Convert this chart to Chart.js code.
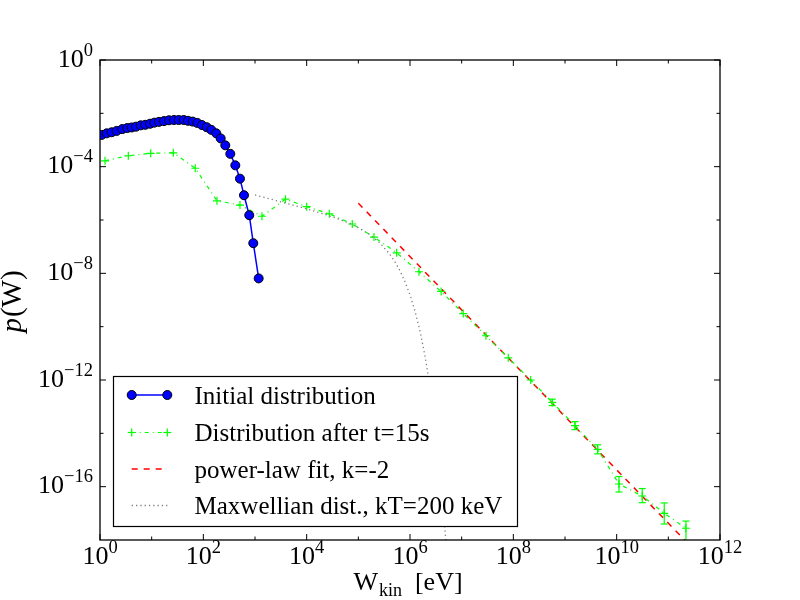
<!DOCTYPE html>
<html>
<head>
<meta charset="utf-8">
<script src="https://cdn.jsdelivr.net/npm/chart.js@4.4.0/dist/chart.umd.min.js"></script>
<style>
    html, body { margin: 0; padding: 0; background: #ffffff; }
    #wrap { width: 800px; height: 600px; }
</style>
</head>
<body>
<div id="wrap"><canvas id="grafico_espectro" width="800" height="600"></canvas></div>
<script>
// values, stored as log10 exponents (W in eV, p(W))
const inicial_logW = [0.033, 0.130, 0.226, 0.323, 0.432, 0.528, 0.614, 0.697, 0.788, 0.877,
    0.968, 1.051, 1.142, 1.239, 1.335, 1.432, 1.523, 1.620, 1.703, 1.794,
    1.883, 1.974, 2.065, 2.154, 2.251, 2.336, 2.425, 2.522, 2.619, 2.709,
    2.787, 2.889, 2.967, 3.071];
const inicial_logP = [-2.81, -2.75, -2.71, -2.66, -2.59, -2.55, -2.53, -2.50, -2.45, -2.43,
    -2.39, -2.35, -2.32, -2.29, -2.26, -2.25, -2.25, -2.25, -2.28, -2.31,
    -2.36, -2.44, -2.52, -2.62, -2.75, -2.94, -3.20, -3.52, -3.95, -4.45,
    -5.07, -5.82, -6.87, -8.19];

const depois_logW = [0.097, 0.548, 0.981, 1.419, 1.844, 2.264, 2.709, 3.135, 3.590, 4.000,
    4.438, 4.883, 5.303, 5.742, 6.174, 6.603, 7.031, 7.470, 7.902, 8.336,
    8.754, 9.193, 9.632, 10.045, 10.495, 10.921, 11.341];
const depois_logP = [-3.78, -3.59, -3.50, -3.48, -4.06, -5.28, -5.44, -5.86, -5.22, -5.50,
    -5.77, -6.15, -6.64, -7.23, -7.94, -8.68, -9.51, -10.34, -11.17, -12.00,
    -12.84, -13.71, -14.60, -15.90, -16.35, -17.00, -17.56];
const depois_errBaixo = [null, null, null, null, null, null, null, null, null, null,
    null, null, null, null, null, null, null, null, null, null,
    -12.96, -13.86, -14.77, -16.20, -16.60, -17.40, -18.20];
const depois_errAlto = [null, null, null, null, null, null, null, null, null, null,
    null, null, null, null, null, null, null, null, null, null,
    -12.72, -13.56, -14.43, -15.62, -16.07, -16.61, -17.29];

const ajuste_logW = [5, 12];
const ajuste_logP = [-5.37, -19.37];

const maxwell_logW = [3.0, 3.25, 3.5, 3.75, 4.0, 4.25, 4.5, 4.75, 5.0, 5.2,
    5.4, 5.6, 5.7, 5.8, 5.9, 6.0, 6.1, 6.2, 6.3, 6.4,
    6.5, 6.6, 6.7, 6.75];
const maxwell_logP = [-5.06, -5.19, -5.32, -5.45, -5.58, -5.73, -5.88, -6.06, -6.29, -6.52,
    -6.83, -7.26, -7.54, -7.88, -8.30, -8.81, -9.44, -10.22, -11.20, -12.41,
    -13.92, -15.81, -18.18, -19.58];

const legenda_textos = ['Initial distribution', 'Distribution after t=15s',
    'power-law fit, k=-2', 'Maxwellian dist., kT=200 keV'];

const ticksX = [0, 2, 4, 6, 8, 10, 12];
const ticksX_menor = [1, 3, 5, 7, 9, 11];
const ticksY = [0, -4, -8, -12, -16];
const ticksY_menor = [-2, -6, -10, -14];

const FONTE = '"Liberation Serif", "Times New Roman", serif';

function pontos(logW, logP) {
    return logW.map(function (w, i) { return { x: Math.pow(10, w), y: Math.pow(10, logP[i]) }; });
}

const estilo_inicial = { cor: '#0000ff', largura: 1.5, raio: 4.5 };
const estilo_depois = { cor: '#00ff00', largura: 1.2, raio: 4, dash: [4, 4, 1, 4] };
const estilo_ajuste = { cor: '#ff0000', largura: 1.5, dash: [6, 6] };
const estilo_maxwell = { cor: '#808080', largura: 1.3, dash: [1.3, 3] };

const data_espectro = {
    datasets: [{
        label: legenda_textos[0],
        data: pontos(inicial_logW, inicial_logP),
        showLine: true,
        borderColor: estilo_inicial.cor,
        borderWidth: estilo_inicial.largura,
        pointRadius: estilo_inicial.raio,
        pointBackgroundColor: estilo_inicial.cor,
        pointBorderColor: '#000000',
        pointBorderWidth: 1,
        clip: 0,
        order: 1
    }, {
        label: legenda_textos[1],
        data: pontos(depois_logW, depois_logP),
        showLine: true,
        borderColor: estilo_depois.cor,
        borderWidth: estilo_depois.largura,
        borderDash: estilo_depois.dash,
        pointStyle: 'cross',
        pointRadius: estilo_depois.raio,
        pointBorderColor: estilo_depois.cor,
        pointBorderWidth: 1.2,
        clip: 0,
        order: 2
    }, {
        label: legenda_textos[2],
        data: pontos(ajuste_logW, ajuste_logP),
        showLine: true,
        borderColor: estilo_ajuste.cor,
        borderWidth: estilo_ajuste.largura,
        borderDash: estilo_ajuste.dash,
        pointRadius: 0,
        clip: 0,
        order: 3
    }, {
        label: legenda_textos[3],
        data: pontos(maxwell_logW, maxwell_logP),
        showLine: true,
        borderColor: estilo_maxwell.cor,
        borderWidth: estilo_maxwell.largura,
        borderDash: estilo_maxwell.dash,
        pointRadius: 0,
        clip: 0,
        order: 0
    }]
};

// 10 with a raised exponent, as matplotlib draws it
function potencia(ctx, expoente, x, y, alinhamento) {
    const exp = String(expoente).replace('-', '\u2212');
    ctx.font = '26px ' + FONTE;
    const wb = ctx.measureText('10').width;
    ctx.font = '18.5px ' + FONTE;
    const we = ctx.measureText(exp).width;
    let x0 = alinhamento === 'right' ? x - wb - we : x - (wb + we) / 2;
    ctx.textAlign = 'left';
    ctx.textBaseline = 'alphabetic';
    ctx.font = '26px ' + FONTE;
    ctx.fillText('10', x0, y);
    ctx.font = '18.5px ' + FONTE;
    ctx.fillText(exp, x0 + wb, y - 11);
}

function linha(ctx, x1, y1, x2, y2, cor, largura, dash) {
    ctx.save();
    ctx.strokeStyle = cor;
    ctx.lineWidth = largura;
    ctx.setLineDash(dash || []);
    ctx.beginPath();
    ctx.moveTo(x1, y1);
    ctx.lineTo(x2, y2);
    ctx.stroke();
    ctx.restore();
}

function cruz(ctx, x, y, r, cor) {
    linha(ctx, x - r, y, x + r, y, cor, 1.2);
    linha(ctx, x, y - r, x, y + r, cor, 1.2);
}

function bolinha(ctx, x, y, r) {
    ctx.save();
    ctx.fillStyle = estilo_inicial.cor;
    ctx.strokeStyle = '#000000';
    ctx.lineWidth = 1;
    ctx.beginPath();
    ctx.arc(x, y, r, 0, Math.PI * 2);
    ctx.fill();
    ctx.stroke();
    ctx.restore();
}

const moldura = {
    id: 'moldura',
    afterDatasetsDraw: function (chart) {
        // error bars of the t=15s distribution
        const ctx = chart.ctx;
        const a = chart.chartArea;
        const sx = chart.scales.x, sy = chart.scales.y;
        ctx.save();
        ctx.beginPath();
        ctx.rect(a.left, a.top, a.right - a.left, a.bottom - a.top);
        ctx.clip();
        for (let i = 0; i < depois_logW.length; i++) {
            if (depois_errBaixo[i] === null) continue;
            const px = sx.getPixelForValue(Math.pow(10, depois_logW[i]));
            const y1 = sy.getPixelForValue(Math.pow(10, depois_errBaixo[i]));
            const y2 = sy.getPixelForValue(Math.pow(10, depois_errAlto[i]));
            linha(ctx, px, y1, px, y2, estilo_depois.cor, 1.2);
            linha(ctx, px - 3.5, y1, px + 3.5, y1, estilo_depois.cor, 1.2);
            linha(ctx, px - 3.5, y2, px + 3.5, y2, estilo_depois.cor, 1.2);
        }
        ctx.restore();
    },
    afterDraw: function (chart) {
        const ctx = chart.ctx;
        const a = chart.chartArea;
        const sx = chart.scales.x, sy = chart.scales.y;

        // frame
        ctx.save();
        ctx.strokeStyle = '#000000';
        ctx.lineWidth = 1.3;
        ctx.strokeRect(a.left, a.top, a.right - a.left, a.bottom - a.top);
        ctx.restore();

        // inward ticks on all four sides
        ticksX.concat(ticksX_menor).forEach(function (e) {
            const px = sx.getPixelForValue(Math.pow(10, e));
            const t = ticksX.indexOf(e) >= 0 ? 6 : 3.5;
            linha(ctx, px, a.bottom, px, a.bottom - t, '#000', 1);
            linha(ctx, px, a.top, px, a.top + t, '#000', 1);
        });
        ticksY.concat(ticksY_menor).forEach(function (e) {
            const py = sy.getPixelForValue(Math.pow(10, e));
            const t = ticksY.indexOf(e) >= 0 ? 6 : 3.5;
            linha(ctx, a.left, py, a.left + t, py, '#000', 1);
            linha(ctx, a.right, py, a.right - t, py, '#000', 1);
        });

        // tick labels
        ctx.fillStyle = '#000000';
        ticksX.forEach(function (e) {
            potencia(ctx, e, sx.getPixelForValue(Math.pow(10, e)), a.bottom + 23.5, 'center');
        });
        ticksY.forEach(function (e) {
            potencia(ctx, e, a.left - 7, sy.getPixelForValue(Math.pow(10, e)) + 6.5, 'right');
        });

        // x axis title: W_kin [eV]
        ctx.textAlign = 'left';
        ctx.textBaseline = 'alphabetic';
        ctx.font = '26px ' + FONTE;
        const wW = ctx.measureText('W').width;
        const wE = ctx.measureText('[eV]').width;
        ctx.font = '18px ' + FONTE;
        const wK = ctx.measureText('kin').width;
        const gap = 13;
        let x0 = (a.left + a.right) / 2 - 2 - (wW + 1 + wK + gap + wE) / 2;
        ctx.font = '26px ' + FONTE;
        ctx.fillText('W', x0, 590);
        ctx.font = '18px ' + FONTE;
        ctx.fillText('kin', x0 + wW + 1, 596);
        ctx.font = '26px ' + FONTE;
        ctx.fillText('[eV]', x0 + wW + 1 + wK + gap, 590);

        // y axis title: p(W)
        ctx.save();
        ctx.translate(21, (a.top + a.bottom) / 2 + 2);
        ctx.rotate(-Math.PI / 2);
        ctx.font = 'italic 29px ' + FONTE;
        const wp = ctx.measureText('p').width;
        ctx.font = '29px ' + FONTE;
        const wr = ctx.measureText('(W)').width;
        ctx.font = 'italic 29px ' + FONTE;
        ctx.fillText('p', -(wp + wr) / 2, 0);
        ctx.font = '29px ' + FONTE;
        ctx.fillText('(W)', -(wp + wr) / 2 + wp + 1, 0);
        ctx.restore();

        // legend box
        const caixa = { left: 113.5, top: 376.5, right: 517.5, bottom: 526.5 };
        ctx.save();
        ctx.fillStyle = '#ffffff';
        ctx.fillRect(caixa.left, caixa.top, caixa.right - caixa.left, caixa.bottom - caixa.top);
        ctx.strokeStyle = '#000000';
        ctx.lineWidth = 1.2;
        ctx.strokeRect(caixa.left, caixa.top, caixa.right - caixa.left, caixa.bottom - caixa.top);
        ctx.restore();

        const xa = 131.7, xb = 167.3;
        const linhas_y = [395, 432.5, 469, 505.5];
        linha(ctx, xa, linhas_y[0], xb, linhas_y[0], estilo_inicial.cor, estilo_inicial.largura);
        bolinha(ctx, xa, linhas_y[0], estilo_inicial.raio);
        bolinha(ctx, xb, linhas_y[0], estilo_inicial.raio);
        linha(ctx, xa, linhas_y[1], xb, linhas_y[1], estilo_depois.cor, estilo_depois.largura, estilo_depois.dash);
        cruz(ctx, xa, linhas_y[1], estilo_depois.raio, estilo_depois.cor);
        cruz(ctx, xb, linhas_y[1], estilo_depois.raio, estilo_depois.cor);
        linha(ctx, xa, linhas_y[2], xb, linhas_y[2], estilo_ajuste.cor, estilo_ajuste.largura, estilo_ajuste.dash);
        linha(ctx, xa, linhas_y[3], xb, linhas_y[3], estilo_maxwell.cor, estilo_maxwell.largura, estilo_maxwell.dash);

        ctx.fillStyle = '#000000';
        ctx.textAlign = 'left';
        ctx.textBaseline = 'alphabetic';
        ctx.font = '25px ' + FONTE;
        legenda_textos.forEach(function (t, i) {
            ctx.fillText(t, 194.5, linhas_y[i] + 8.5);
        });
    }
};

const config_espectro = {
    type: 'scatter',
    data: data_espectro,
    options: {
        responsive: false,
        devicePixelRatio: 1,
        animation: false,
        events: [],
        layout: { padding: { left: 100, right: 80, top: 60, bottom: 60 } },
        scales: {
            x: { type: 'logarithmic', min: 1, max: 1e12, display: false },
            y: { type: 'logarithmic', min: 1e-18, max: 1, display: false }
        },
        plugins: {
            legend: { display: false },
            tooltip: { enabled: false }
        }
    },
    plugins: [moldura]
};

const grafico_espectro = new Chart(document.getElementById('grafico_espectro'), config_espectro);
</script>
</body>
</html>
